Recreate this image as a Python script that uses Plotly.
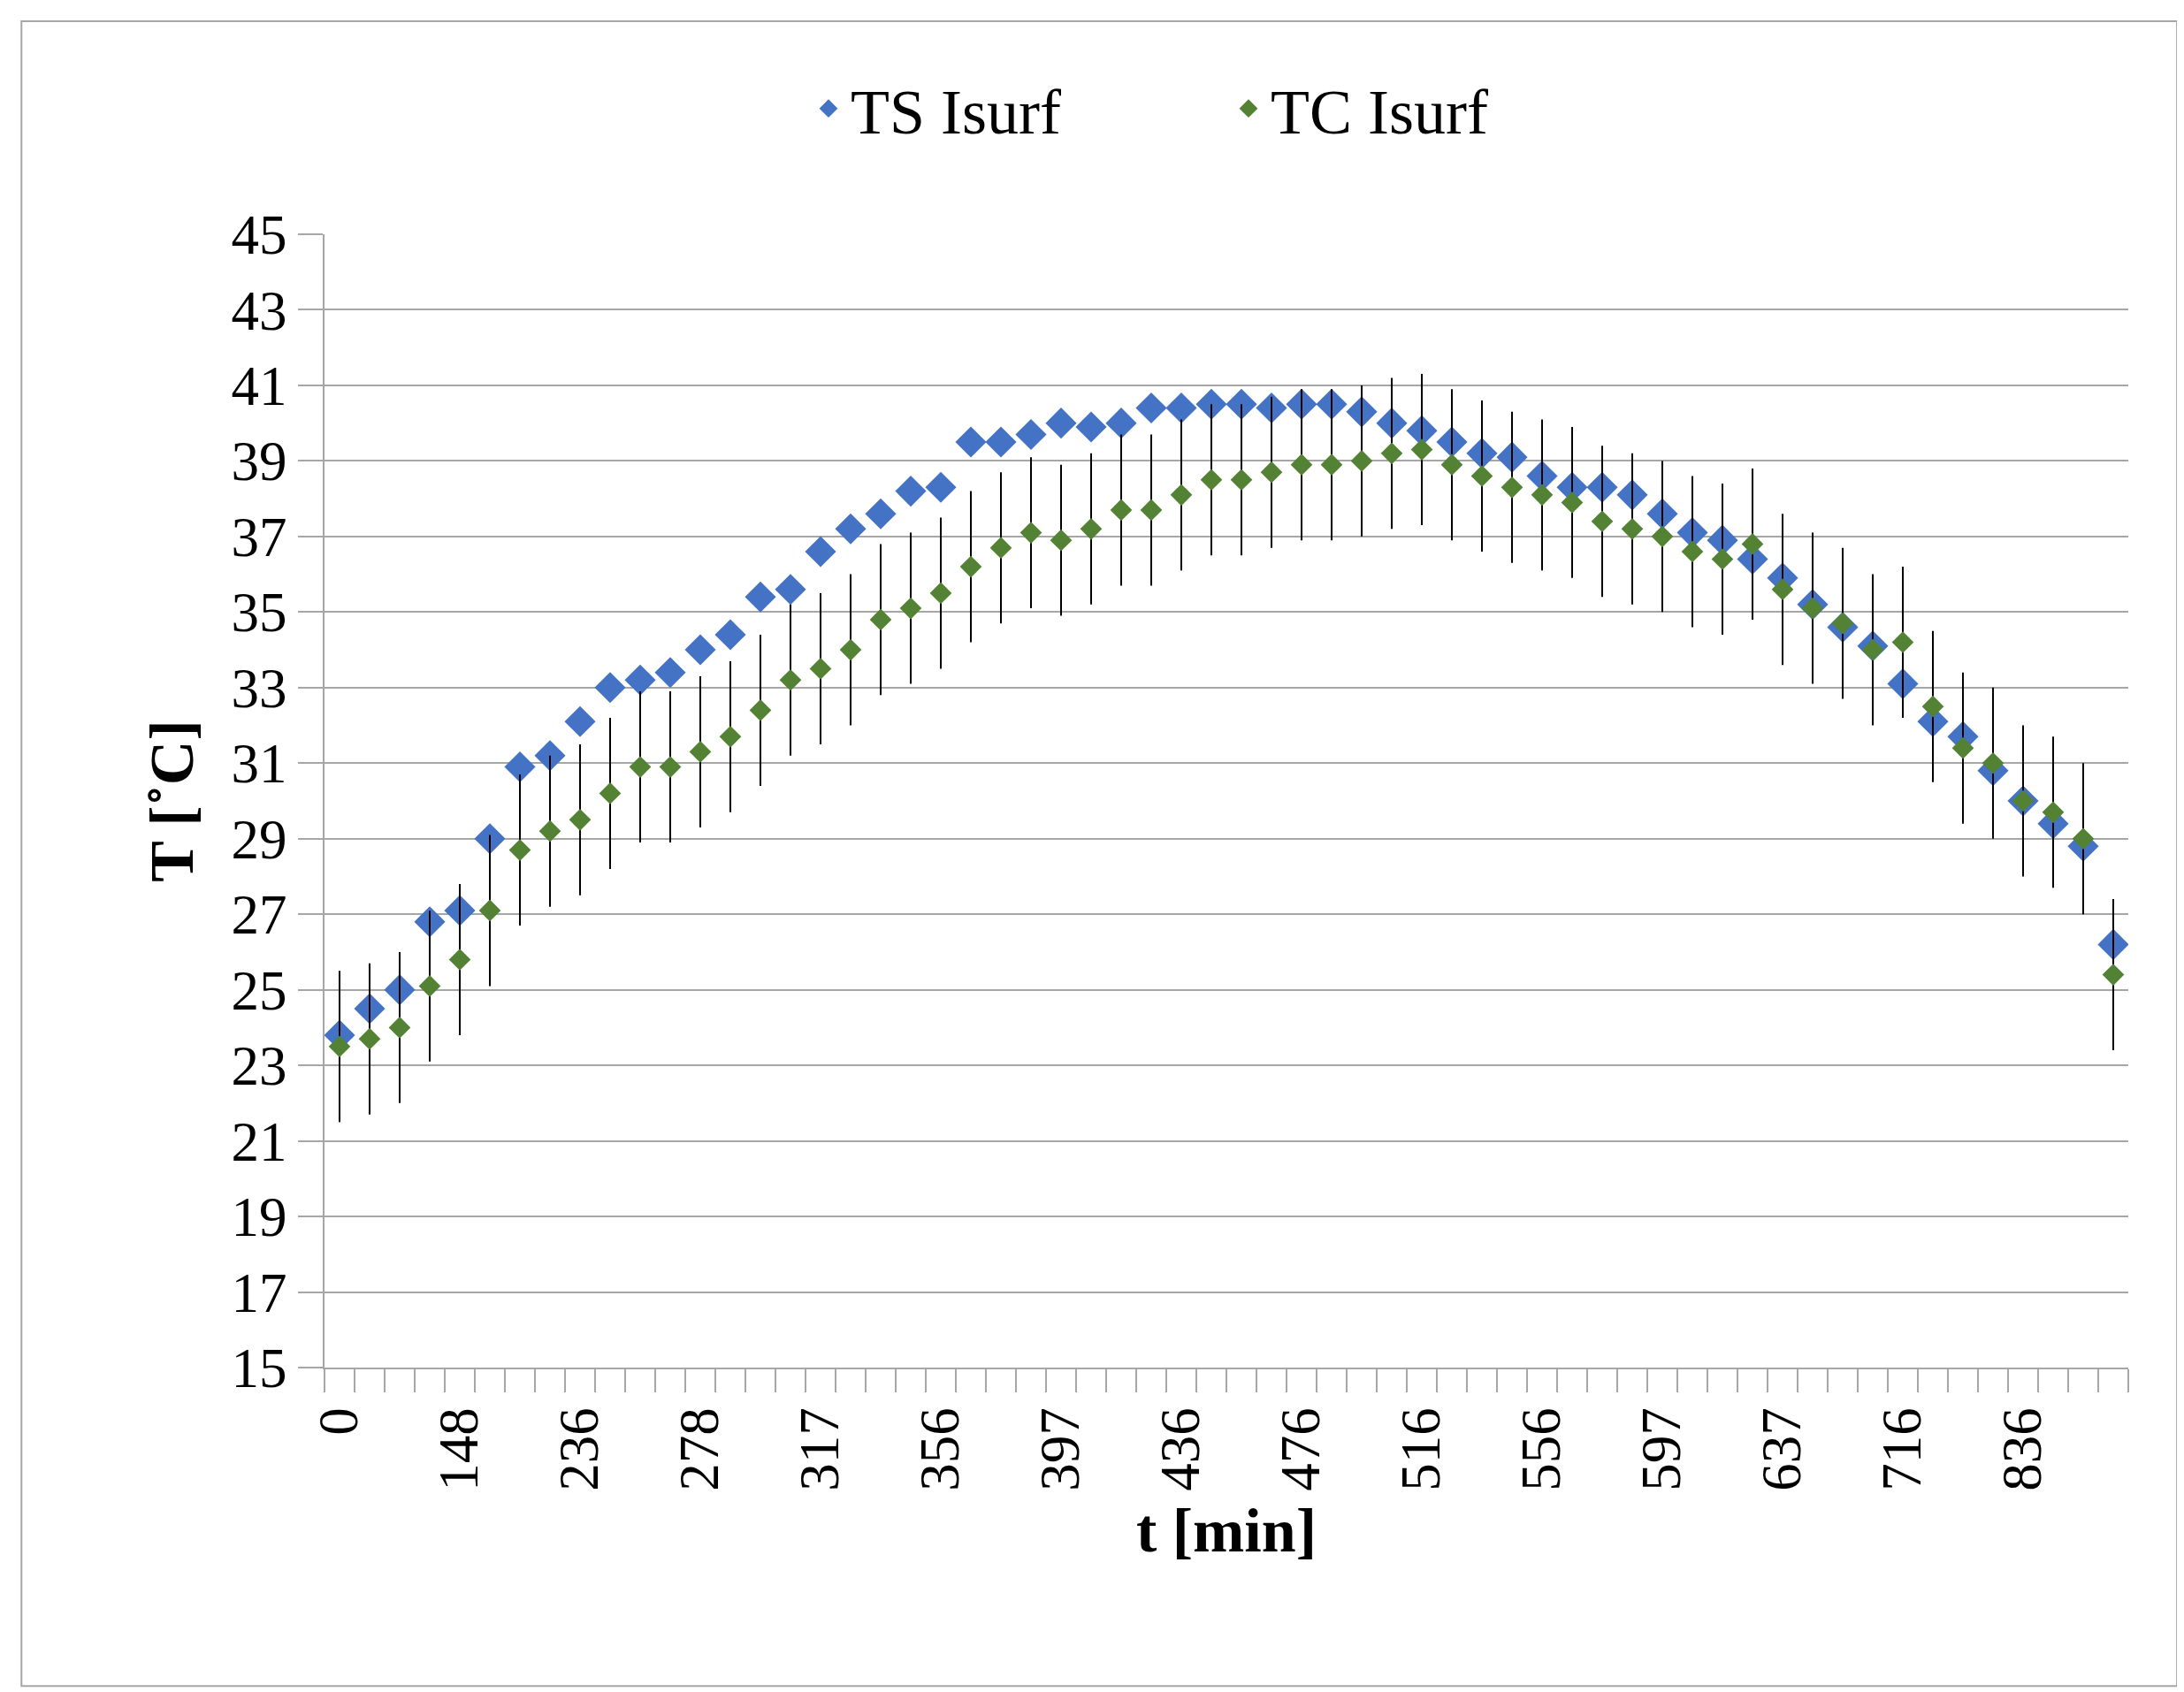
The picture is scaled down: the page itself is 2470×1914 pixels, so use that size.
import plotly.graph_objects as go

idx = list(range(60))
label_pos = [0, 4, 8, 12, 16, 20, 24, 28, 32, 36, 40, 44, 48, 52, 56]
label_txt = ["0", "148", "236", "278", "317", "356", "397", "436", "476", "516", "556", "597", "637", "716", "836"]

ts = [23.8, 24.5, 25.0, 26.8, 27.1, 29.0, 30.9, 31.2, 32.1, 33.0, 33.2, 33.4, 34.0, 34.4, 35.4, 35.6,
      36.6, 37.2, 37.6, 38.2, 38.3, 39.5, 39.5, 39.7, 40.0, 39.9, 40.0, 40.4, 40.4, 40.5, 40.5, 40.4,
      40.5, 40.5, 40.3, 40.0, 39.8, 39.5, 39.2, 39.1, 38.6, 38.3, 38.3, 38.1, 37.6, 37.1, 36.9, 36.4,
      35.9, 35.2, 34.6, 34.1, 33.1, 32.1, 31.7, 30.8, 30.0, 29.4, 28.8, 26.2]
tc = [23.5, 23.7, 24.0, 25.1, 25.8, 27.1, 28.7, 29.2, 29.5, 30.2, 30.9, 30.9, 31.3, 31.7, 32.4, 33.2,
      33.5, 34.0, 34.8, 35.1, 35.5, 36.2, 36.7, 37.1, 36.9, 37.2, 37.7, 37.7, 38.1, 38.5, 38.5, 38.7,
      38.9, 38.9, 39.0, 39.2, 39.3, 38.9, 38.6, 38.3, 38.1, 37.9, 37.4, 37.2, 37.0, 36.6, 36.4, 36.8,
      35.6, 35.1, 34.7, 34.0, 34.2, 32.5, 31.4, 31.0, 30.0, 29.7, 29.0, 25.4]
err = 2.0

font = "Liberation Serif"
fig = go.Figure()
fig.add_trace(go.Scatter(x=idx, y=ts, mode="markers", name="TS Isurf",
                         marker=dict(symbol="diamond", size=27, color="#4472C4")))
fig.add_trace(go.Scatter(x=idx, y=tc, mode="markers", name="TC Isurf",
                         marker=dict(symbol="diamond", size=19, color="#548235"),
                         error_y=dict(type="constant", value=err, color="black", thickness=2, width=0)))

fig.update_layout(
    width=2470, height=1914, plot_bgcolor="white", paper_bgcolor="white",
    margin=dict(l=359, r=71, t=257, b=375),
    font=dict(family=font, size=63, color="black"),
    legend=dict(orientation="h", x=0.5, xanchor="center", y=0.94, yanchor="middle",
                yref="container", font=dict(size=72), bgcolor="rgba(0,0,0,0)",
                entrywidth=420, itemwidth=40),
    xaxis=dict(range=[-0.5, 59.5], tickmode="array", tickvals=label_pos, ticktext=label_txt,
               tickangle=-90, ticks="", showgrid=False, showline=True, linecolor="#a6a6a6",
               linewidth=2, zeroline=False, ticklabelstandoff=18,
               minor=dict(tickmode="linear", tick0=0.5, dtick=1, ticks="outside", ticklen=26,
                          tickcolor="#a6a6a6", tickwidth=2, showgrid=False),
               title=dict(text="<b>t [min]</b>", font=dict(size=70), standoff=20)),
    yaxis=dict(range=[15, 45], dtick=2, tick0=15, showgrid=True, gridcolor="#a6a6a6", gridwidth=2,
               ticks="outside", ticklen=28, tickcolor="#a6a6a6", tickwidth=2,
               showline=True, linecolor="#a6a6a6", linewidth=2, zeroline=False,
               title=dict(text="<b>T [˚C]</b>", font=dict(size=70), standoff=20)),
    shapes=[dict(type="rect", xref="paper", yref="paper", x0=-0.168, x1=1.027, y0=-0.281, y1=1.188,
                 line=dict(color="#a6a6a6", width=2))],
)
fig.write_html("out.html")
